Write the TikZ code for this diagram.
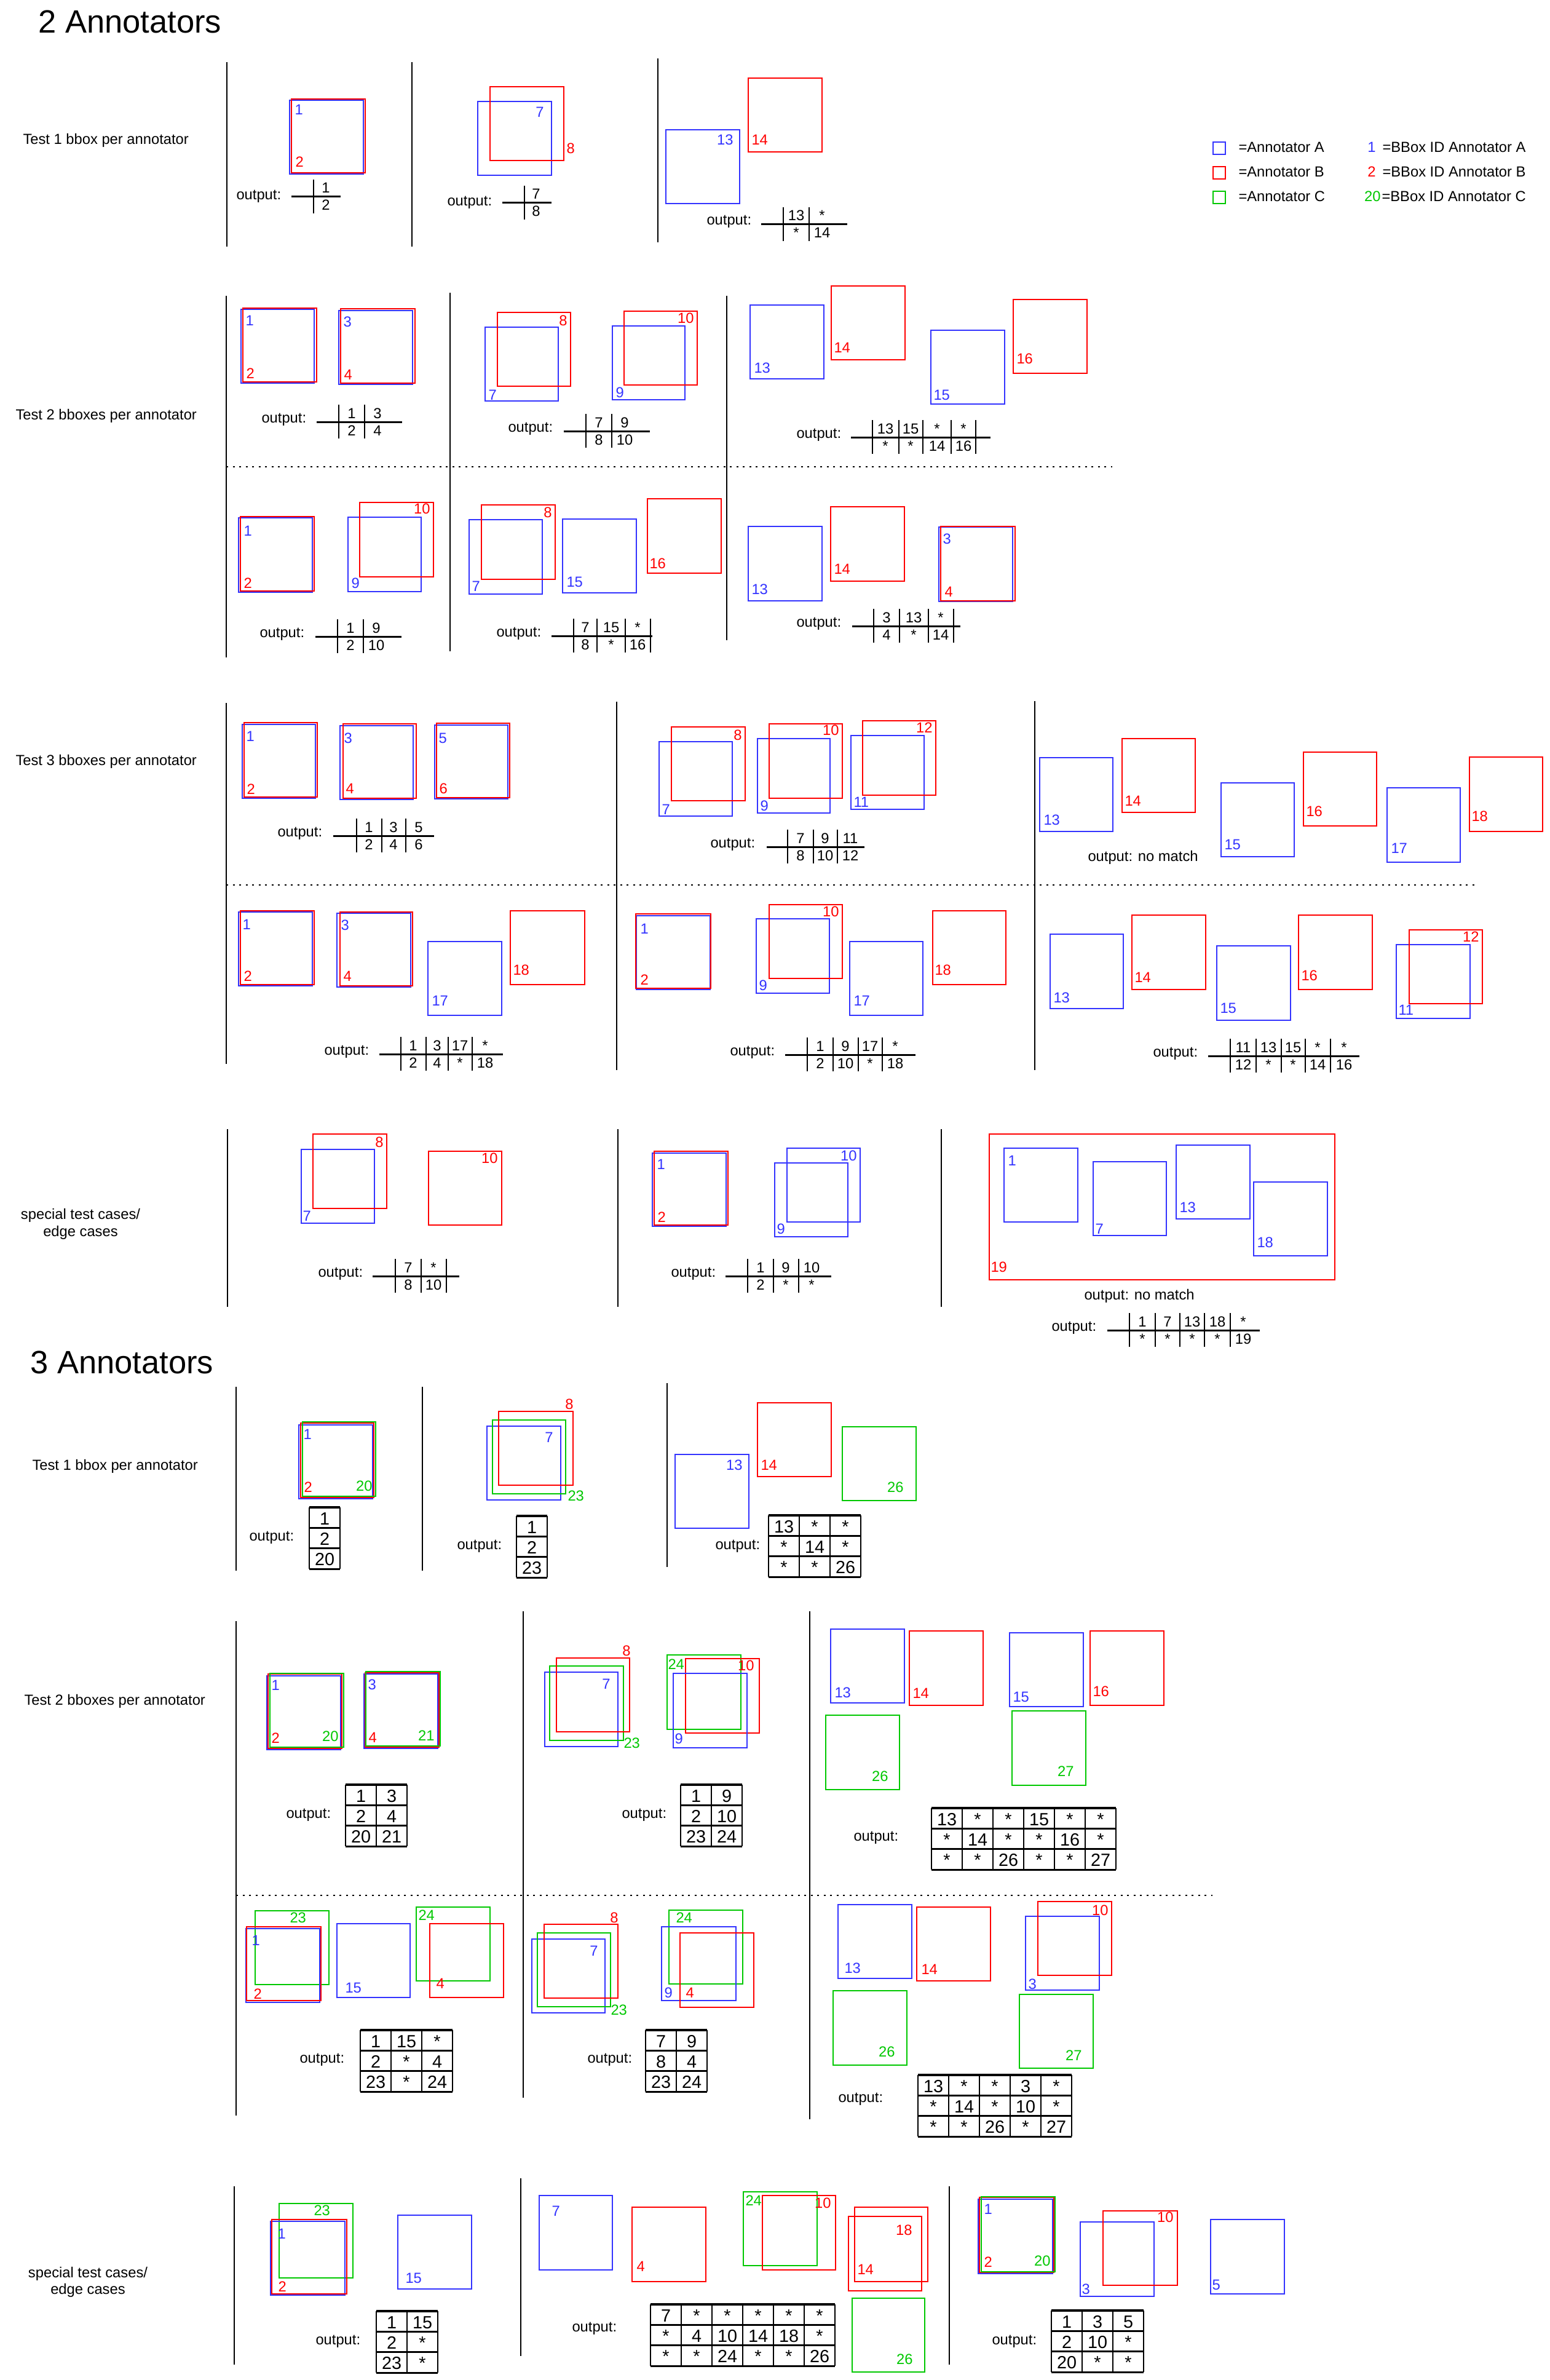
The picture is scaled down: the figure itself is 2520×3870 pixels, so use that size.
\documentclass[tikz,border=0pt]{standalone}
\usepackage{fontspec}
\setmainfont{Liberation Sans}
\definecolor{cA}{RGB}{51,51,255}
\definecolor{cB}{RGB}{255,0,0}
\definecolor{cC}{RGB}{0,200,0}
\newcounter{nd}
\tikzset{
  boxA/.style={draw=cA,line width=0.8pt},
  boxB/.style={draw=cB,line width=0.8pt},
  boxC/.style={draw=cC,line width=0.8pt},
  sep/.style={draw=black,line width=0.7pt},
  dotl/.style={draw=black,line width=1pt,dash pattern=on 1.3pt off 2.9pt},
  lab/.style={inner sep=0pt,font=\fontsize{9.5}{11}\selectfont},
  labA/.style={lab,text=cA},
  labB/.style={lab,text=cB},
  labC/.style={lab,text=cC},
  head/.style={inner sep=0pt,font=\fontsize{21}{25}\selectfont},
  hl/.style={draw=black,line width=1.2pt},
  vl/.style={draw=black,line width=0.6pt},
  cell/.style={inner sep=0pt,font=\fontsize{9.5}{11}\selectfont,anchor=base},
  gcell/.style={inner sep=0pt,font=\fontsize{11.5}{13}\selectfont,anchor=base},
  gh/.style={draw=black,line width=1.3pt},
  gv/.style={draw=black,line width=0.8pt},
}
\newcommand\bxA[4]{\draw[boxA] (#1,#2) rectangle (#3,#4);}
\newcommand\bxB[4]{\draw[boxB] (#1,#2) rectangle (#3,#4);}
\newcommand\bxC[4]{\draw[boxC] (#1,#2) rectangle (#3,#4);}
\newcommand\lbW[4]{\stepcounter{nd}\node[lab#1,anchor=base west] (L\arabic{nd}) at (#2,#3) {#4};}
\newcommand\lbE[4]{\stepcounter{nd}\node[lab#1,anchor=base east] (L\arabic{nd}) at (#2,#3) {#4};}
\newcommand\outL[3]{\stepcounter{nd}\node[lab,anchor=base west] (o\arabic{nd}) at (#1,#2) {#3};}
\newcommand\crossT[5]{%
  \foreach \vv in {#4} {\draw[vl] (\vv,{#3-28}) -- (\vv,{#3+27});}
  \draw[hl] (#1,#3) -- (#2,#3);
  \foreach \cxx/\ctt/\cbb in {#5} {%
    \stepcounter{nd}\node[cell] (c\arabic{nd}) at (\cxx,{#3-6}) {\ctt};
    \stepcounter{nd}\node[cell] (c\arabic{nd}) at (\cxx,{#3+22}) {\cbb};
  }%
}
\newcommand\gridT[4]{%
  \foreach \gjj in {0,...,#3} {\draw[gv] ({#1+50*\gjj},#2) -- ({#1+50*\gjj},{#2+100.2});}
  \foreach \gii in {0,1,2,3} {\draw[gh] (#1,{#2+33.4*\gii}) -- ({#1+50*#3},{#2+33.4*\gii});}
  \foreach \gtx [count=\gkk from 0] in {#4} {%
    \pgfmathtruncatemacro\grr{floor(\gkk/#3)}%
    \pgfmathtruncatemacro\gcc{mod(\gkk,#3)}%
    \stepcounter{nd}\node[gcell] (g\arabic{nd}) at ({#1+50*\gcc+25},{#2+33.4*\grr+28}) {\gtx};
  }%
}
\begin{document}
\begin{tikzpicture}[x=0.4pt,y=-0.4pt]
\useasboundingbox (0,0) rectangle (2520,3870);
\fill[white] (0,0) rectangle (2520,3870);

% headings and row labels
\node[head,anchor=base west] (h2) at (62,54) {2 Annotators};
\node[head,anchor=base west] (h3) at (49,2233) {3 Annotators};
\node[lab,anchor=base west] (t21) at (37,235) {Test 1 bbox per annotator};
\node[lab,anchor=base west] (t22) at (25,682) {Test 2 bboxes per annotator};
\node[lab,anchor=base west] (t23) at (25,1244) {Test 3 bboxes per annotator};
\node[lab,anchor=base] (t24a) at (131,1982) {special test cases/};
\node[lab,anchor=base] (t24b) at (131,2010) {edge cases};
\node[lab,anchor=base west] (t31) at (52,2390) {Test 1 bbox per annotator};
\node[lab,anchor=base west] (t32) at (39,2772) {Test 2 bboxes per annotator};
\node[lab,anchor=base] (t33a) at (143,3703) {special test cases/};
\node[lab,anchor=base] (t33b) at (143,3730) {edge cases};

% legend
\draw[boxA] (1973,231) rectangle (1993,251);
\draw[boxB] (1973,271) rectangle (1993,291);
\draw[boxC] (1973,311) rectangle (1993,331);
\node[lab,anchor=base west] (lgA) at (2014,248) {=Annotator A};
\node[lab,anchor=base west] (lgB) at (2014,288) {=Annotator B};
\node[lab,anchor=base west] (lgC) at (2014,328) {=Annotator C};
\node[labA,anchor=base east] (lg1) at (2238,248) {1};
\node[lab,anchor=base west] (lgt1) at (2248,248) {=BBox ID Annotator A};
\node[labB,anchor=base east] (lg2) at (2238,288) {2};
\node[lab,anchor=base west] (lgt2) at (2248,288) {=BBox ID Annotator B};
\node[labC,anchor=base east] (lg3) at (2246,328) {20};
\node[lab,anchor=base west] (lgt3) at (2247,328) {=BBox ID Annotator C};

% ===== 2 annotators: test 1
\draw[sep] (369,101) -- (369,401);
\draw[sep] (670,101) -- (670,401);
\draw[sep] (1070,95) -- (1070,394);
\bxA{471}{163}{591}{283} \bxB{474}{161}{594}{281}
\lbW{A}{479}{187}{1} \lbW{B}{480}{272}{2}
\bxA{777}{165}{897}{285} \bxB{797}{141}{917}{261}
\lbE{A}{885}{191}{7} \lbW{B}{921}{250}{8}
\bxA{1083}{211}{1203}{331} \bxB{1217}{127}{1337}{247}
\lbE{A}{1193}{236}{13} \lbW{B}{1222}{236}{14}
\crossT{474}{554}{320}{510}{530/1/2} \outL{384}{325}{output:}
\crossT{817}{897}{330}{853}{872/7/8} \outL{727}{335}{output:}
\crossT{1238}{1378}{365}{1274,1316}{1295/13/*,1337/*/14} \outL{1149}{366}{output:}

% ===== 2 annotators: test 2
\draw[sep] (368,481) -- (368,1069);
\draw[sep] (732,476) -- (732,1059);
\draw[sep] (1182,481) -- (1182,1041);
\draw[dotl] (368,759) -- (1809,759);
\bxA{392}{503}{511}{623} \bxB{395}{501}{515}{621}
\lbW{A}{399}{530}{1} \lbW{B}{400}{615}{2}
\bxA{551}{505}{671}{625} \bxB{554}{502}{675}{623}
\lbW{A}{558}{532}{3} \lbW{B}{559}{617}{4}
\bxA{789}{532}{908}{652} \bxB{809}{508}{928}{628}
\lbE{B}{923}{530}{8} \lbW{A}{794}{650}{7}
\bxA{996}{530}{1114}{650} \bxB{1015}{506}{1134}{626}
\lbE{B}{1129}{525}{10} \lbW{A}{1001}{646}{9}
\bxA{1220}{496}{1340}{616} \lbW{A}{1226}{606}{13}
\bxB{1352}{465}{1472}{585} \lbW{B}{1356}{573}{14}
\bxA{1514}{537}{1634}{657} \lbW{A}{1518}{650}{15}
\bxB{1648}{487}{1768}{607} \lbW{B}{1653}{591}{16}
\crossT{515}{654}{686}{551,593}{572/1/2,614/3/4} \outL{425}{687}{output:}
\crossT{917}{1057}{701}{953,995}{974/7/8,1016/9/10} \outL{826}{702}{output:}
\crossT{1384}{1611}{711}{1419,1462,1501,1547,1587}{1440/13/*,1481/15/*,1524/*/14,1567/*/16} \outL{1295}{712}{output:}

\bxA{388}{842}{508}{963} \bxB{391}{840}{511}{961}
\lbW{A}{396}{871}{1} \lbW{B}{396}{956}{2}
\bxA{566}{841}{685}{962} \bxB{585}{817}{705}{938}
\lbE{B}{700}{835}{10} \lbW{A}{571}{956}{9}
\bxA{763}{845}{882}{966} \bxB{783}{821}{903}{942}
\lbE{B}{898}{841}{8} \lbW{A}{767}{961}{7}
\bxA{915}{844}{1035}{964} \lbW{A}{921}{954}{15}
\bxB{1053}{811}{1173}{932} \lbW{B}{1056}{924}{16}
\bxA{1217}{856}{1337}{977} \lbW{A}{1222}{966}{13}
\bxB{1351}{824}{1471}{945} \lbW{B}{1356}{933}{14}
\bxA{1527}{857}{1647}{978} \bxB{1530}{856}{1651}{977}
\lbW{A}{1533}{884}{3} \lbW{B}{1536}{970}{4}
\crossT{513}{653}{1035}{549,591}{570/1/2,612/9/10} \outL{422}{1036}{output:}
\crossT{897}{1061}{1034}{933,971,1017,1058}{952/7/8,994/15/*,1037/*/16} \outL{807}{1035}{output:}
\crossT{1386}{1562}{1018}{1421,1463,1510,1551}{1442/3/4,1486/13/*,1530/*/14} \outL{1295}{1019}{output:}

% ===== 2 annotators: test 3
\draw[sep] (368,1143) -- (368,1730);
\draw[sep] (1003,1141) -- (1003,1740);
\draw[sep] (1683,1140) -- (1683,1740);
\draw[dotl] (368,1439) -- (2405,1439);
\bxA{394}{1178}{513}{1298} \bxB{397}{1175}{516}{1296}
\lbW{A}{400}{1205}{1} \lbW{B}{401}{1291}{2}
\bxA{553}{1180}{672}{1300} \bxB{558}{1177}{677}{1298}
\lbW{A}{559}{1208}{3} \lbW{B}{562}{1290}{4}
\bxA{707}{1179}{826}{1299} \bxB{710}{1176}{829}{1297}
\lbW{A}{713}{1208}{5} \lbW{B}{714}{1290}{6}
\bxA{1072}{1206}{1191}{1327} \bxB{1092}{1182}{1212}{1302}
\lbE{B}{1207}{1203}{8} \lbW{A}{1076}{1324}{7}
\bxA{1232}{1201}{1350}{1322} \bxB{1251}{1177}{1370}{1298}
\lbE{B}{1365}{1195}{10} \lbW{A}{1236}{1318}{9}
\bxA{1384}{1196}{1503}{1316} \bxB{1403}{1172}{1522}{1293}
\lbE{B}{1517}{1191}{12} \lbW{A}{1388}{1312}{11}
\bxA{1691}{1232}{1810}{1352} \lbW{A}{1697}{1341}{13}
\bxB{1825}{1201}{1944}{1321} \lbW{B}{1829}{1310}{14}
\bxA{1986}{1273}{2105}{1393} \lbW{A}{1991}{1381}{15}
\bxB{2120}{1223}{2239}{1343} \lbW{B}{2124}{1327}{16}
\bxA{2256}{1281}{2375}{1402} \lbW{A}{2262}{1387}{17}
\bxB{2390}{1231}{2509}{1352} \lbW{B}{2393}{1335}{18}
\crossT{542}{706}{1359}{580,621,660}{600/1/2,640/3/4,681/5/6} \outL{451}{1360}{output:}
\crossT{1247}{1406}{1377}{1281,1323,1362}{1302/7/8,1342/9/10,1383/11/12} \outL{1155}{1378}{output:}
\outL{1769}{1400}{output: no match}

\bxA{388}{1483}{508}{1603} \bxB{391}{1481}{511}{1601}
\lbW{A}{394}{1511}{1} \lbW{B}{396}{1595}{2}
\bxA{548}{1485}{668}{1605} \bxB{553}{1483}{671}{1603}
\lbW{A}{554}{1512}{3} \lbW{B}{558}{1595}{4}
\bxA{696}{1531}{816}{1651} \lbW{A}{702}{1635}{17}
\bxB{830}{1481}{951}{1601} \lbW{B}{834}{1585}{18}
\bxA{1035}{1489}{1155}{1609} \bxB{1034}{1486}{1156}{1607}
\lbW{A}{1041}{1518}{1} \lbW{B}{1041}{1601}{2}
\bxA{1230}{1494}{1349}{1615} \bxB{1251}{1471}{1370}{1591}
\lbE{B}{1365}{1490}{10} \lbW{A}{1234}{1610}{9}
\bxA{1382}{1531}{1501}{1651} \lbW{A}{1388}{1635}{17}
\bxB{1517}{1481}{1636}{1601} \lbW{B}{1520}{1585}{18}
\bxA{1708}{1519}{1827}{1640} \lbW{A}{1713}{1630}{13}
\bxB{1841}{1488}{1961}{1609} \lbW{B}{1845}{1597}{14}
\bxA{1979}{1538}{2099}{1659} \lbW{A}{1984}{1647}{15}
\bxB{2112}{1488}{2232}{1609} \lbW{B}{2116}{1594}{16}
\bxA{2271}{1536}{2391}{1656} \lbW{A}{2274}{1650}{11}
\bxB{2292}{1512}{2411}{1632} \lbE{B}{2406}{1531}{12}
\crossT{617}{818}{1714}{652,693,729,768}{672/1/2,711/3/4,748/17/*,789/*/18} \outL{527}{1715}{output:}
\crossT{1277}{1489}{1715}{1313,1355,1396,1435}{1334/1/2,1375/9/10,1415/17/*,1456/*/18} \outL{1187}{1716}{output:}
\crossT{1965}{2211}{1717}{2001,2043,2084,2123,2164}{2022/11/12,2063/13/*,2103/15/*,2143/*/14,2186/*/16} \outL{1875}{1718}{output:}

% ===== 2 annotators: special
\draw[sep] (370,1836) -- (370,2125);
\draw[sep] (1005,1836) -- (1005,2125);
\draw[sep] (1531,1836) -- (1531,2125);
\bxA{490}{1869}{609}{1989} \bxB{509}{1844}{629}{1965}
\lbE{B}{624}{1865}{8} \lbW{A}{492}{1985}{7}
\bxB{697}{1872}{816}{1992} \lbE{B}{810}{1891}{10}
\bxA{1061}{1875}{1181}{1994} \bxB{1064}{1872}{1184}{1992}
\lbW{A}{1068}{1901}{1} \lbW{B}{1069}{1987}{2}
\bxA{1260}{1891}{1379}{2011} \lbW{A}{1263}{2006}{9}
\bxA{1280}{1867}{1399}{1987} \lbE{A}{1394}{1887}{10}
\bxB{1609}{1844}{2171}{2081} \lbW{B}{1611}{2068}{19}
\bxA{1633}{1867}{1753}{1987} \lbW{A}{1639}{1895}{1}
\bxA{1778}{1889}{1897}{2009} \lbW{A}{1781}{2006}{7}
\bxA{1913}{1862}{2033}{1982} \lbW{A}{1918}{1971}{13}
\bxA{2039}{1922}{2159}{2042} \lbW{A}{2044}{2028}{18}
\crossT{606}{747}{2075}{643,685,726}{664/7/8,705/*/10} \outL{517}{2076}{output:}
\crossT{1180}{1352}{2075}{1216,1258,1299}{1237/1/2,1278/9/*,1320/10/*} \outL{1091}{2076}{output:}
\outL{1763}{2113}{output: no match}
\crossT{1801}{2049}{2163}{1837,1879,1919,1959,2001}{1858/1/*,1899/7/*,1939/13/*,1980/18/*,2022/*/19} \outL{1710}{2164}{output:}

% ===== 3 annotators: test 1
\draw[sep] (384,2255) -- (384,2554);
\draw[sep] (687,2255) -- (687,2554);
\draw[sep] (1085,2249) -- (1085,2548);
\bxA{486}{2317}{606}{2437} \bxB{489}{2314}{608}{2435} \bxC{492}{2312}{611}{2433}
\lbW{A}{493}{2340}{1} \lbW{B}{494}{2426}{2} \lbE{C}{606}{2424}{20}
\bxA{792}{2319}{912}{2439} \bxC{801}{2309}{920}{2429} \bxB{811}{2295}{932}{2415}
\lbE{B}{933}{2291}{8} \lbE{A}{900}{2345}{7} \lbW{C}{923}{2440}{23}
\bxA{1098}{2365}{1218}{2485} \lbE{A}{1208}{2390}{13}
\bxB{1232}{2281}{1352}{2401} \lbW{B}{1237}{2390}{14}
\bxC{1370}{2320}{1490}{2440} \lbE{C}{1470}{2426}{26}
\gridT{503}{2451}{1}{1,2,20} \outL{405}{2505}{output:}
\gridT{840}{2465}{1}{1,2,23} \outL{743}{2519}{output:}
\gridT{1250}{2464}{3}{13,*,*,*,14,*,*,*,26} \outL{1163}{2519}{output:}

% ===== 3 annotators: test 2
\draw[sep] (384,2636) -- (384,3440);
\draw[sep] (851,2620) -- (851,3411);
\draw[sep] (1317,2620) -- (1317,3446);
\draw[dotl] (384,3082) -- (1972,3082);
\bxA{434}{2725}{554}{2845} \bxB{436}{2722}{556}{2843} \bxC{439}{2721}{559}{2841}
\lbW{A}{441}{2748}{1} \lbW{B}{441}{2834}{2} \lbE{C}{551}{2831}{20}
\bxA{592}{2722}{712}{2843} \bxB{594}{2720}{714}{2841} \bxC{595}{2718}{716}{2839}
\lbW{A}{598}{2747}{3} \lbW{B}{599}{2833}{4} \lbE{C}{707}{2830}{21}
\bxA{886}{2719}{1005}{2840} \bxC{894}{2709}{1014}{2830} \bxB{905}{2696}{1024}{2816}
\lbE{B}{1026}{2692}{8} \lbE{A}{993}{2746}{7} \lbW{C}{1014}{2842}{23}
\bxC{1085}{2691}{1205}{2812} \bxB{1115}{2697}{1235}{2818} \bxA{1095}{2721}{1215}{2842}
\lbW{C}{1086}{2714}{24} \lbE{B}{1227}{2716}{10} \lbW{A}{1097}{2835}{9}
\bxA{1351}{2649}{1471}{2769} \lbW{A}{1357}{2760}{13}
\bxB{1479}{2652}{1599}{2773} \lbW{B}{1484}{2761}{14}
\bxA{1642}{2655}{1762}{2775} \lbW{A}{1647}{2767}{15}
\bxB{1773}{2652}{1893}{2773} \lbW{B}{1777}{2758}{16}
\bxC{1343}{2789}{1463}{2910} \lbE{C}{1445}{2896}{26}
\bxC{1646}{2782}{1766}{2903} \lbE{C}{1747}{2888}{27}
\gridT{562}{2902}{2}{1,3,2,4,20,21} \outL{465}{2956}{output:}
\gridT{1107}{2902}{2}{1,9,2,10,23,24} \outL{1011}{2956}{output:}
\gridT{1515}{2940}{6}{13,*,*,15,*,*,*,14,*,*,16,*,*,*,26,*,*,27} \outL{1388}{2993}{output:}

\bxC{415}{3107}{535}{3227} \lbW{C}{471}{3126}{23}
\bxA{400}{3136}{520}{3256} \bxB{401}{3133}{522}{3253}
\lbW{A}{409}{3163}{1} \lbW{B}{412}{3250}{2}
\bxA{548}{3128}{667}{3248} \lbW{A}{561}{3240}{15}
\bxC{677}{3101}{797}{3221} \lbW{C}{680}{3122}{24}
\bxB{699}{3128}{819}{3248} \lbW{B}{709}{3233}{4}
\bxA{865}{3153}{984}{3273} \bxC{874}{3143}{993}{3263} \bxB{885}{3129}{1005}{3249}
\lbE{B}{1006}{3126}{8} \lbE{A}{973}{3180}{7} \lbW{C}{993}{3276}{23}
\bxC{1088}{3106}{1208}{3226} \lbW{C}{1099}{3126}{24}
\bxA{1076}{3133}{1197}{3253} \lbW{A}{1080}{3248}{9}
\bxB{1106}{3143}{1226}{3264} \lbW{B}{1115}{3248}{4}
\bxA{1363}{3097}{1483}{3217} \lbW{A}{1373}{3208}{13}
\bxB{1491}{3101}{1611}{3221} \lbW{B}{1498}{3210}{14}
\bxA{1668}{3116}{1788}{3236} \lbW{A}{1672}{3234}{3}
\bxB{1688}{3092}{1808}{3212} \lbE{B}{1803}{3114}{10}
\bxC{1355}{3237}{1475}{3358} \lbE{C}{1456}{3344}{26}
\bxC{1658}{3243}{1778}{3363} \lbE{C}{1760}{3350}{27}
\gridT{586}{3301}{3}{1,15,*,2,*,4,23,*,24} \outL{487}{3354}{output:}
\gridT{1050}{3301}{2}{7,9,8,4,23,24} \outL{955}{3354}{output:}
\gridT{1493}{3374}{5}{13,*,*,3,*,*,14,*,10,*,*,*,26,*,27} \outL{1363}{3418}{output:}

% ===== 3 annotators: special
\draw[sep] (381,3555) -- (381,3845);
\draw[sep] (847,3542) -- (847,3831);
\draw[sep] (1544,3555) -- (1544,3845);
\bxC{454}{3583}{574}{3704} \lbW{C}{510}{3602}{23}
\bxA{440}{3612}{561}{3732} \bxB{442}{3609}{564}{3730}
\lbW{A}{451}{3640}{1} \lbW{B}{452}{3726}{2}
\bxA{647}{3602}{767}{3722} \lbW{A}{659}{3712}{15}
\bxA{877}{3570}{996}{3691} \lbW{A}{897}{3603}{7}
\bxB{1028}{3589}{1148}{3710} \lbW{B}{1035}{3693}{4}
\bxC{1209}{3564}{1329}{3684} \lbW{C}{1212}{3586}{24}
\bxB{1240}{3570}{1359}{3691} \lbE{B}{1352}{3590}{10}
\bxB{1390}{3589}{1509}{3710} \lbE{B}{1484}{3634}{18}
\bxB{1380}{3604}{1499}{3725} \lbW{B}{1394}{3698}{14}
\bxC{1386}{3737}{1504}{3857} \lbE{C}{1485}{3844}{26}
\bxA{1591}{3576}{1712}{3697} \bxB{1593}{3573}{1714}{3695} \bxC{1596}{3572}{1716}{3694}
\lbW{A}{1600}{3600}{1} \lbW{B}{1600}{3686}{2} \lbE{C}{1709}{3684}{20}
\bxA{1757}{3613}{1877}{3734} \lbW{A}{1759}{3730}{3}
\bxB{1794}{3595}{1915}{3716} \lbE{B}{1909}{3613}{10}
\bxA{1969}{3609}{2089}{3730} \lbW{A}{1971}{3723}{5}
\gridT{612}{3758}{2}{1,15,2,*,23,*} \outL{513}{3812}{output:}
\gridT{1058}{3747}{6}{7,*,*,*,*,*,*,4,10,14,18,*,*,*,24,*,*,26} \outL{930}{3791}{output:}
\gridT{1710}{3757}{3}{1,3,5,2,10,*,20,*,*} \outL{1613}{3812}{output:}
\end{tikzpicture}
\end{document}
